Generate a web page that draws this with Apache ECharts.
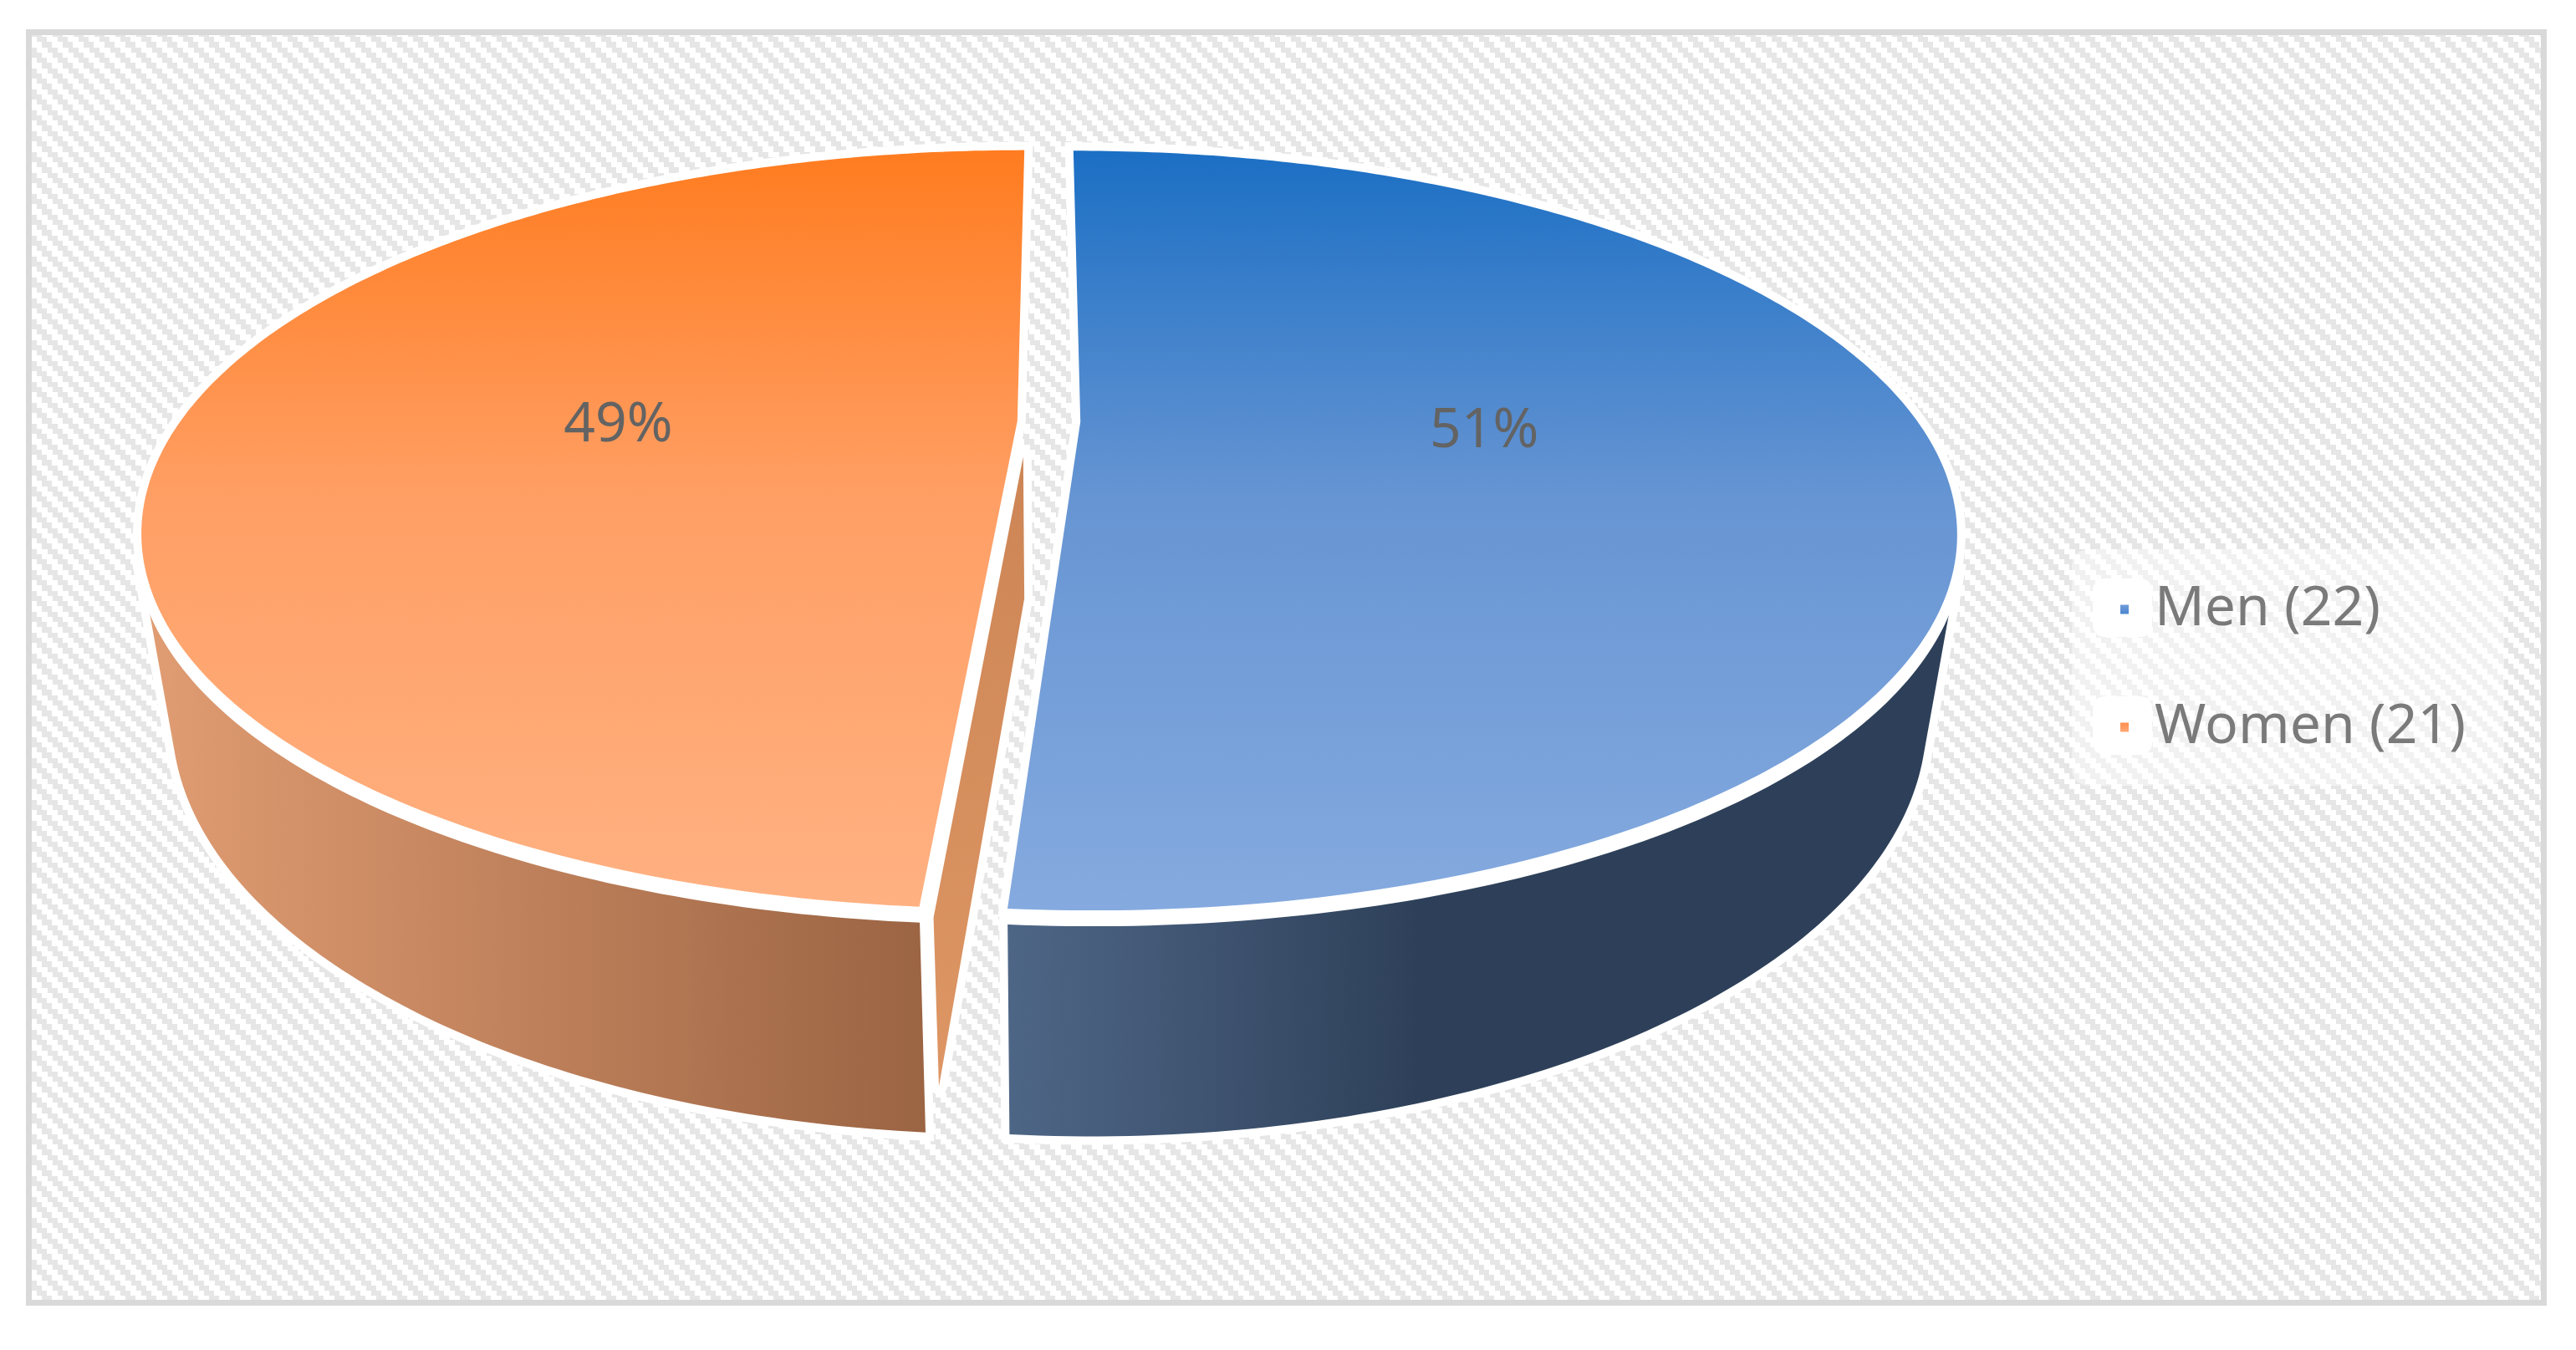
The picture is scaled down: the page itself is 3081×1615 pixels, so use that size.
<!DOCTYPE html>
<html>
<head>
<meta charset="utf-8">
<style>html,body{margin:0;padding:0;background:#fff}#c{width:3081px;height:1615px}</style>
<script src="https://cdn.jsdelivr.net/npm/echarts@6/dist/echarts.min.js"></script>
</head>
<body>
<div id="c"></div>
<script>
// ---- data ----
const categories = ['Men (22)', 'Women (21)'];
const counts = [22, 21];

// ---- styles ----
const topStops = [
  [[0, '#1b6fc4'], [0.46, '#6795d3'], [1, '#85aadf']],
  [[0, '#ff7c20'], [0.46, '#ff9f65'], [1, '#ffb182']]
];
const legendStops = [
  [[0, '#6f9bd8'], [1, '#4b86d0']],
  [[0, '#ff8f50'], [1, '#ffa873']]
];
const sideStops = [
  { x0: 1205, x1: 1700, stops: [[0, '#4e6686'], [1, '#2e4059']] },
  { x0: 181, x1: 1106, stops: [[0, '#e09c72'], [1, '#9b6443']] }
];
const labelShift = [4, 13];

// ---- perspective pie layout ----
const L = { cx: 1254.5, cy: 504, a: 1001, b: 416.8, k: 0.2863, explode: 0.0377, vy: 6700, d: 0.0361, halo: 20, out: 4 };
const total = counts.reduce((s, v) => s + v, 0);
const angles = [];
let acc = 0;
counts.forEach(v => { const s = acc / total * 2 * Math.PI; acc += v; angles.push([s, acc / total * 2 * Math.PI]); });

function project(u, v) {
  const w = 1 - L.k * v;
  return { x: L.cx + L.a * u / w, y: L.cy + L.b * v / w, w };
}
function dropped(p) {
  const t = p.w + L.d;
  return { x: (p.x * p.w + L.d * L.cx) / t, y: (p.y * p.w + L.d * L.vy) / t };
}
function sliceGeometry(i) {
  const [s, e] = angles[i];
  const mid = (s + e) / 2;
  const ox = Math.sin(mid) * L.explode, oy = -Math.cos(mid) * L.explode;
  const pt = th => project(Math.sin(th) + ox, -Math.cos(th) + oy);
  const rim = [];
  const n = 240;
  for (let j = 0; j <= n; j++) rim.push(pt(s + (e - s) * j / n));
  const apex = project(ox, oy);
  return { rim, apex, ox, oy, mid };
}
const xy = p => [p.x, p.y];

// The outer wall runs from the silhouette tangent (as seen from the vanishing point) round to the front cut.
function sideOutline(rim, dir) {
  let tan = 0, best = -Infinity;
  rim.forEach((p, j) => {
    const s = dir * (p.x - L.cx) / (L.vy - p.y);
    if (s > best) { best = s; tan = j; }
  });
  const idx = [];
  if (dir > 0) for (let j = tan; j < rim.length; j++) idx.push(j);
  else for (let j = 0; j <= tan; j++) idx.push(j);
  const push = (p, j, span) => [p.x + dir * L.out * Math.max(0, 1 - Math.abs(j - tan) / span), p.y];
  const upper = idx.map(j => push(rim[j], j, 12));
  const lower = idx.map(j => push(dropped(rim[j]), j, 40)).reverse();
  return upper.concat(lower);
}

function renderSlice(i) {
  return function () {
    const g = sliceGeometry(i);
    const topPts = [xy(g.apex)].concat(g.rim.map(xy));
    const sidePts = sideOutline(g.rim, i === 0 ? 1 : -1);
    const topFill = new echarts.graphic.LinearGradient(0, 180, 0, 1090, topStops[i].map(([offset, color]) => ({ offset, color })), true);
    const sideFill = new echarts.graphic.LinearGradient(sideStops[i].x0, 0, sideStops[i].x1, 0, sideStops[i].stops.map(([offset, color]) => ({ offset, color })), true);
    const halo = { fill: '#fff', stroke: '#fff', lineWidth: L.halo, lineJoin: 'miter', miterLimit: 4 };
    const children = [];

    // orange cut wall, seen through the gap
    let wall = null;
    if (i === 1) {
      const F = g.rim[0], A = g.apex, FB = dropped(F), AB = dropped(A);
      wall = [[A.x + 7, A.y + 43], [F.x + 17, F.y + 13], [FB.x + 16, FB.y - 55], [AB.x + 7, AB.y - 3]];
      children.push({ type: 'polygon', shape: { points: wall }, style: { fill: '#fff', stroke: '#fff', lineWidth: L.halo, lineJoin: 'round' } });
    }
    children.push({ type: 'polygon', shape: { points: sidePts }, style: halo });
    children.push({ type: 'polygon', shape: { points: sidePts }, style: { fill: sideFill } });
    children.push({ type: 'polygon', shape: { points: topPts }, style: halo });
    children.push({ type: 'polygon', y: 11, shape: { points: topPts }, style: { fill: '#fff', stroke: '#fff', lineWidth: L.halo - 4, lineJoin: 'miter', miterLimit: 4 } });
    if (wall) {
      const wallFill = new echarts.graphic.LinearGradient(0, 547, 0, 1303, [{ offset: 0, color: '#cd8555' }, { offset: 1, color: '#dd9664' }], true);
      children.push({ type: 'polygon', shape: { points: wall }, style: { fill: wallFill } });
    }
    children.push({ type: 'polygon', shape: { points: topPts }, style: { fill: topFill } });

    // percentage label
    const r = 0.48;
    const lp = project(Math.sin(g.mid) * r + g.ox, -Math.cos(g.mid) * r + g.oy);
    children.push({
      type: 'text', x: lp.x, y: lp.y + labelShift[i],
      style: { text: Math.round(counts[i] / total * 100) + '%', fill: '#636363', font: '66px "Noto Sans"', align: 'center', verticalAlign: 'middle' }
    });
    return { type: 'group', children };
  };
}

// ---- hatched background tile ----
function hatchTile() {
  const size = 25, c = document.createElement('canvas');
  c.width = c.height = size;
  const ctx = c.getContext('2d');
  ctx.fillStyle = '#fff'; ctx.fillRect(0, 0, size, size);
  ctx.fillStyle = '#e6e6e6';
  for (let y = 0; y < size; y++) {
    const row = Math.floor(y / 6.25);
    for (let x = 0; x < size; x++) {
      const m = ((x - row * 6.25) % size + size) % size;
      if (m < 12) ctx.fillRect(x, y, 1, 1);
    }
  }
  return c;
}

const chart = echarts.init(document.getElementById('c'), null, { width: 3081, height: 1615, renderer: 'canvas' });
chart.setOption({
  animation: false,
  backgroundColor: '#fff',
  graphic: [
    { type: 'rect', z: -10, silent: true, shape: { x: 34.5, y: 38.5, width: 3008, height: 1520 },
      style: { fill: { image: hatchTile(), repeat: 'repeat' }, stroke: '#d9d9d9', lineWidth: 7 } },
    { type: 'rect', z: -9, silent: true, shape: { x: 2478, y: 657, width: 517, height: 283, r: 20 }, style: { fill: 'rgba(255,255,255,0.45)' } },
    { type: 'rect', z: -8, silent: true, shape: { x: 2503, y: 692, width: 71, height: 70, r: 14 }, style: { fill: '#fff' } },
    { type: 'rect', z: -8, silent: true, shape: { x: 2503, y: 833, width: 71, height: 70, r: 14 }, style: { fill: '#fff' } }
  ],
  legend: {
    show: true,
    orient: 'vertical',
    left: 2531,
    top: 684,
    itemWidth: 10,
    itemHeight: 11,
    itemGap: 61,
    icon: 'rect',
    data: categories,
    textStyle: { color: '#7a7a7a', fontFamily: 'Noto Sans', fontSize: 66, lineHeight: 80, padding: [0, 0, 0, 26] },
    selectedMode: false
  },
  series: categories.map((name, i) => ({
    type: 'custom',
    name,
    coordinateSystem: 'none',
    silent: true,
    z: 2 + i,
    itemStyle: { color: new echarts.graphic.LinearGradient(0, 0, 0, 1, legendStops[i].map(([offset, color]) => ({ offset, color }))) },
    renderItem: renderSlice(i),
    data: [{ name, value: counts[i] }]
  }))
});
</script>
</body>
</html>
